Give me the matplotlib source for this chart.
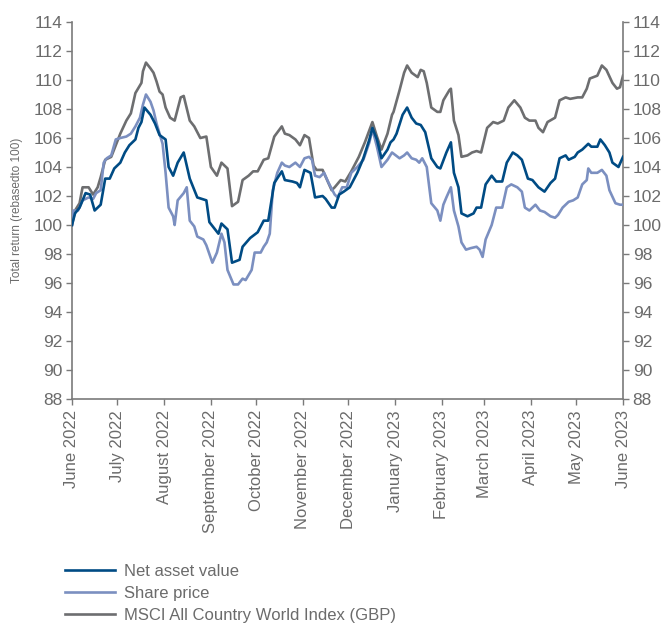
import matplotlib
matplotlib.use("Agg")
import matplotlib.pyplot as plt
import matplotlib.dates as mdates
import numpy as np
import datetime as dt

start = dt.date(2022, 6, 1)

# days since 1 June 2022 and values
nav_days = [0, 2, 5, 9, 12, 15, 19, 22, 25, 28, 32, 35, 38, 42, 44, 46, 48, 52, 55, 58, 62, 64, 67, 70, 74,
            78, 83, 89, 91, 97, 99, 103, 106, 111, 113, 118, 123, 127, 130, 134, 139, 141, 146, 149, 151, 154,
            158, 161, 166, 168, 172, 174, 177, 180, 184, 189, 193, 197, 199, 202, 205, 209, 211, 213, 215, 219,
            222, 225, 228, 231, 234, 238, 242, 244, 248, 251, 253, 256, 258, 262, 266, 268, 271, 274, 278, 281,
            285, 288, 292, 295, 298, 302, 305, 309, 313, 317, 320, 323, 327, 329, 333, 335, 338, 342, 344, 348,
            350, 353, 356, 358, 362, 365]
nav_vals = [100.0, 100.8, 101.2, 102.2, 102.1, 101.0, 101.4, 103.2, 103.2, 103.9, 104.3, 105.0, 105.5, 105.9,
            106.7, 107.1, 108.1, 107.6, 107.0, 106.2, 105.9, 104.0, 103.4, 104.3, 105.0, 103.2, 101.9, 101.7,
            100.2, 99.4, 100.1, 99.7, 97.4, 97.6, 98.5, 99.1, 99.5, 100.3, 100.3, 102.9, 103.7, 103.1, 103.0,
            102.9, 102.6, 103.8, 103.6, 101.9, 102.0, 101.8, 101.2, 101.2, 102.1, 102.3, 102.6, 103.6, 104.6,
            105.9, 106.7, 105.9, 104.6, 105.2, 105.7, 105.9, 106.3, 107.6, 108.1, 107.4, 107.0, 106.9, 106.4,
            104.6, 104.0, 103.9, 105.0, 105.7, 103.6, 102.6, 100.8, 100.6, 100.8, 101.2, 101.2, 102.8, 103.4,
            103.0, 103.0, 104.3, 105.0, 104.8, 104.5, 103.2, 103.1, 102.6, 102.3, 102.9, 103.2, 104.6, 104.8,
            104.5, 104.7, 105.0, 105.2, 105.6, 105.4, 105.4, 105.9, 105.5, 105.0, 104.3, 104.0, 104.7]

sp_days = [0, 1, 4, 7, 11, 14, 16, 19, 21, 23, 26, 29, 32, 36, 39, 42, 45, 47, 49, 52, 54, 56, 58, 60, 62, 64,
           67, 68, 70, 74, 76, 78, 81, 83, 87, 89, 93, 96, 99, 101, 103, 107, 110, 113, 115, 119, 121, 125, 127,
           129, 131, 133, 136, 139, 141, 144, 148, 151, 154, 157, 159, 161, 164, 167, 170, 174, 176, 179, 182,
           185, 189, 193, 197, 199, 202, 205, 209, 212, 217, 220, 222, 225, 228, 230, 232, 235, 238, 242, 244,
           246, 248, 251, 253, 256, 258, 261, 264, 268, 270, 272, 274, 278, 281, 285, 288, 291, 295, 298, 300,
           303, 307, 310, 313, 317, 320, 322, 325, 329, 332, 335, 338, 341, 342, 344, 348, 351, 354, 356, 360,
           363, 365]
sp_vals = [100.0, 101.0, 101.0, 101.7, 101.9, 101.8, 102.2, 102.4, 104.3, 104.6, 104.8, 105.9, 106.0, 106.1,
           106.3, 106.8, 107.4, 108.3, 109.0, 108.5, 107.9, 107.0, 106.3, 105.6, 103.6, 101.2, 100.6, 100.0,
           101.7, 102.2, 102.6, 100.3, 99.9, 99.2, 99.0, 98.6, 97.4, 98.1, 99.4, 98.8, 96.9, 95.9, 95.9, 96.3,
           96.2, 96.9, 98.1, 98.1, 98.5, 98.8, 99.4, 102.4, 103.6, 104.3, 104.1, 104.0, 104.3, 104.0, 104.6,
           104.7, 104.5, 103.4, 103.3, 103.6, 102.9, 102.1, 101.9, 102.6, 102.6, 103.6, 104.0, 104.5, 105.7,
           106.6, 105.4, 104.0, 104.5, 105.0, 104.6, 104.8, 105.0, 104.6, 104.5, 104.3, 104.6, 104.0, 101.5,
           101.0, 100.3, 101.4, 101.9, 102.6, 101.0, 99.9, 98.8, 98.3, 98.4, 98.5, 98.3, 97.8, 99.0, 100.0,
           101.2, 101.2, 102.6, 102.8, 102.6, 102.3, 101.2, 101.0, 101.4, 101.0, 100.9, 100.6, 100.5, 100.7,
           101.2, 101.6, 101.7, 101.9, 102.8, 103.1, 103.9, 103.6, 103.6, 103.8, 103.4, 102.4, 101.5, 101.4,
           101.4]

msci_days = [0, 2, 5, 7, 11, 14, 17, 19, 22, 26, 29, 32, 36, 39, 42, 46, 47, 49, 52, 54, 56, 58, 60, 62, 65,
             68, 72, 74, 78, 81, 85, 89, 92, 96, 99, 103, 106, 110, 113, 117, 120, 123, 127, 130, 134, 139, 141,
             144, 148, 151, 154, 157, 160, 162, 166, 169, 172, 174, 178, 181, 185, 190, 194, 199, 202, 205, 209,
             212, 213, 217, 220, 222, 225, 229, 231, 233, 235, 238, 242, 244, 246, 250, 251, 253, 256, 258, 262,
             265, 268, 271, 275, 279, 282, 286, 289, 293, 297, 300, 303, 307, 309, 312, 315, 320, 323, 327, 330,
             335, 338, 341, 343, 348, 351, 354, 358, 361, 363, 365]
msci_vals = [100.0, 101.0, 101.5, 102.6, 102.6, 102.1, 102.6, 103.3, 104.5, 104.7, 105.5, 106.3, 107.2, 107.7,
             109.1, 109.8, 110.6, 111.2, 110.8, 110.5, 109.9, 109.2, 109.0, 108.1, 107.4, 107.2, 108.8, 108.9,
             107.2, 106.8, 106.0, 106.1, 104.0, 103.4, 104.3, 103.9, 101.3, 101.6, 103.1, 103.4, 103.7, 103.7,
             104.5, 104.6, 106.1, 106.8, 106.3, 106.2, 105.9, 105.5, 106.2, 106.0, 104.1, 103.8, 103.8, 103.1,
             102.4, 102.6, 103.1, 103.0, 103.7, 104.7, 105.7, 107.1, 106.1, 105.2, 106.3, 107.6, 107.8, 109.3,
             110.5, 111.0, 110.5, 110.2, 110.7, 110.6, 109.8, 108.1, 107.8, 107.8, 108.6, 109.3, 109.4, 107.2,
             106.2, 104.7, 104.8, 105.0, 105.1, 105.0, 106.7, 107.1, 107.0, 107.2, 108.1, 108.6, 108.1, 107.4,
             107.2, 107.2, 106.7, 106.4, 107.1, 107.4, 108.6, 108.8, 108.7, 108.8, 108.8, 109.4, 110.1, 110.3,
             111.0, 110.7, 109.8, 109.4, 109.5, 110.3]

series_labels = ["Net asset value", "Share price", "MSCI All Country World Index (GBP)"]
month_ticks = ["June 2022", "July 2022", "August 2022", "September 2022", "October 2022", "November 2022",
               "December 2022", "January 2023", "February 2023", "March 2023", "April 2023", "May 2023",
               "June 2023"]
y_ticks = list(range(88, 115, 2))

def to_dates(days):
    return [start + dt.timedelta(days=d) for d in days]

TXT = "#6b6b6b"
AX = "#7a7a7a"
plt.rcParams['font.family'] = ['Liberation Sans', 'DejaVu Sans']

fig = plt.figure(figsize=(6.61, 6.25), dpi=100)
ax = fig.add_axes([72/661, 1-399/625, (623-72)/661, (399-22)/625])

ax.plot(to_dates(msci_days), msci_vals, color="#6d6e70", lw=1.9, label=series_labels[2], zorder=2)
ax.plot(to_dates(sp_days), sp_vals, color="#7b8fc0", lw=1.9, label=series_labels[1], zorder=3)
ax.plot(to_dates(nav_days), nav_vals, color="#004b84", lw=1.9, label=series_labels[0], zorder=4)

ax.set_xlim(dt.date(2022, 6, 1), dt.date(2023, 6, 1))
ax.set_ylim(88, 114)
ax.set_yticks(y_ticks)
ax.set_yticklabels([str(v) for v in y_ticks])

mt = [dt.date(2022 + (5 + i) // 12, (5 + i) % 12 + 1, 1) for i in range(13)]
ax.set_xticks(mt)
ax.set_xticklabels(month_ticks, rotation=90)

for s in ["top"]:
    ax.spines[s].set_visible(False)
for s in ["left", "right", "bottom"]:
    ax.spines[s].set_color(AX)
    ax.spines[s].set_linewidth(1.2)

ax.tick_params(axis='y', which='both', left=True, right=True, labelleft=True, labelright=True,
               colors=AX, labelcolor=TXT, labelsize=12.5, length=4, width=1, pad=3)
ax.tick_params(axis='x', colors=AX, labelcolor=TXT, labelsize=12, length=4, width=1, pad=4)

fig.text(17/661, 1-210/625, "Total return (rebasedto 100)", rotation=90, ha='center', va='center',
         fontsize=8.5, color=TXT)

handles, labels = ax.get_legend_handles_labels()
order = [2, 1, 0]
leg = fig.legend([handles[i] for i in order], [labels[i] for i in order], loc='upper left',
                 bbox_to_anchor=(58/661, 1-557/625), frameon=False, fontsize=12,
                 handlelength=3.0, handletextpad=0.55, labelspacing=0.42, borderaxespad=0)
for t in leg.get_texts():
    t.set_color(TXT)

fig.savefig("out.png", dpi=100)
